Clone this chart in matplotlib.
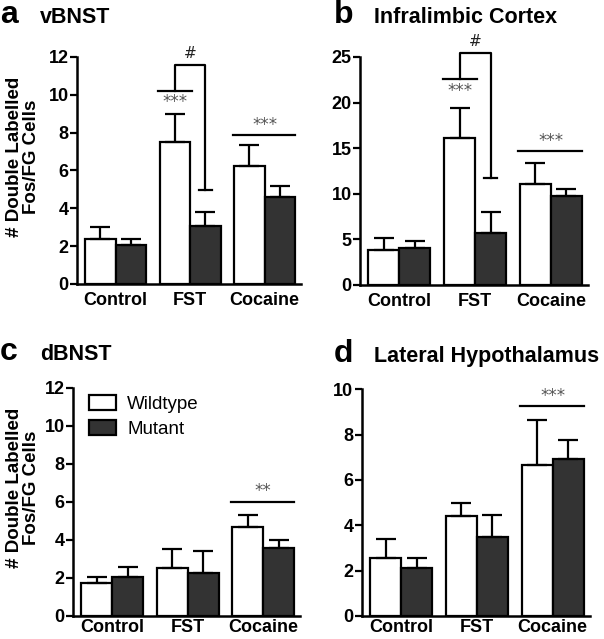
import numpy as np
import matplotlib
matplotlib.use("Agg")
import matplotlib.pyplot as plt
from matplotlib.patches import Patch

plt.rcParams['font.family'] = ['Liberation Sans', 'DejaVu Sans']

groups = ["Control", "FST", "Cocaine"]

# means and upper error (mean + sem)
vbnst_wt = [2.40, 7.51, 6.22]
vbnst_wt_top = [3.02, 8.96, 7.33]
vbnst_mut = [2.08, 3.08, 4.58]
vbnst_mut_top = [2.38, 3.81, 5.16]

il_wt = [3.83, 16.13, 11.06]
il_wt_top = [5.18, 19.45, 13.43]
il_mut = [4.05, 5.66, 9.78]
il_mut_top = [4.78, 7.96, 10.55]

dbnst_wt = [1.72, 2.50, 4.66]
dbnst_wt_top = [2.04, 3.51, 5.31]
dbnst_mut = [2.07, 2.25, 3.57]
dbnst_mut_top = [2.57, 3.44, 3.99]

lh_wt = [2.57, 4.42, 6.65]
lh_wt_top = [3.39, 4.98, 8.63]
lh_mut = [2.13, 3.49, 6.93]
lh_mut_top = [2.57, 4.45, 7.77]

# significance annotations
vbnst_bracket = [10.22, 11.6, 4.95]   # WT bar line, top, mutant drop
il_bracket = [22.55, 25.47, 11.75]
vbnst_coc_line = 7.86
il_coc_line = 14.7
dbnst_coc_line = 6.01
lh_coc_line = 9.25

dark = '#333333'
w = 0.41
x = np.arange(len(groups))

fig = plt.figure(figsize=(6.04, 6.39), dpi=100)


def panel(rect, wt, wt_top, mut, mut_top, ymax, ystep, xpad, ylabel_x=None):
    ax = fig.add_axes(rect)
    wt_err = [np.zeros(3), np.array(wt_top) - np.array(wt)]
    mut_err = [np.zeros(3), np.array(mut_top) - np.array(mut)]
    ax.bar(x - w / 2, wt, w, color='white', edgecolor='black', linewidth=1.6,
           yerr=wt_err, error_kw=dict(ecolor='black', elinewidth=1.6, capsize=7, capthick=1.6), zorder=3)
    ax.bar(x + w / 2, mut, w, color=dark, edgecolor='black', linewidth=1.6,
           yerr=mut_err, error_kw=dict(ecolor='black', elinewidth=1.6, capsize=7, capthick=1.6), zorder=3)
    ax.set_xlim(-0.52, 2.49)
    ax.set_ylim(0, ymax)
    ax.set_yticks(np.arange(0, ymax + 0.01, ystep))
    ax.set_xticks(x)
    ax.set_xticklabels(groups, fontsize=13, fontweight='bold')
    for lab in ax.get_yticklabels():
        lab.set_fontweight('bold')
        lab.set_fontsize(13)
    ax.tick_params(axis='x', length=0, pad=xpad)
    ax.tick_params(axis='y', length=5, width=1.6, pad=1, direction='out')
    for s in ['top', 'right']:
        ax.spines[s].set_visible(False)
    for s in ['left', 'bottom']:
        ax.spines[s].set_linewidth(1.8)
    if ylabel_x is not None:
        ax.set_ylabel("# Double Labelled\nFos/FG Cells", fontsize=13.5, fontweight='bold',
                      linespacing=1.0)
        ax.yaxis.set_label_coords(ylabel_x, 0.56)
    return ax


def coc_line(ax, y, ymax, stars):
    ax.plot([2 - w - 0.02, 2 + w], [y, y], color='black', lw=1.6, clip_on=False)
    ax.text(2, y + ymax * 0.045, stars, ha='center', va='center', fontsize=12,
            color='#555555', family='DejaVu Sans')


def bracket(ax, vals, ymax):
    low, top, drop = vals
    xw = 1 - w / 2
    xm = 1 + w / 2
    ax.plot([xw - w / 2 - 0.02, xw + w / 2 + 0.02], [low, low], color='black', lw=1.6, clip_on=False)
    ax.plot([xw, xw, xm, xm], [low, top, top, drop], color='black', lw=1.6, clip_on=False)
    ax.plot([xm - 0.09, xm + 0.09], [drop, drop], color='black', lw=1.6, clip_on=False)
    ax.text(1, top + ymax * 0.05, "#", ha='center', va='center', fontsize=11, color='#222222',
            family='DejaVu Sans')
    ax.text(xw, low - ymax * 0.05, "***", ha='center', va='center', fontsize=12,
            color='#555555', family='DejaVu Sans')


ax_a = panel([0.1275, 0.5556, 0.371, 0.3552], vbnst_wt, vbnst_wt_top, vbnst_mut, vbnst_mut_top,
             12, 2, 6, -0.165)
bracket(ax_a, vbnst_bracket, 12)
coc_line(ax_a, vbnst_coc_line, 12, "***")

ax_b = panel([0.596, 0.554, 0.3775, 0.3568], il_wt, il_wt_top, il_mut, il_mut_top, 25, 5, 6)
bracket(ax_b, il_bracket, 25)
coc_line(ax_b, il_coc_line, 25, "***")

ax_c = panel([0.121, 0.036, 0.376, 0.357], dbnst_wt, dbnst_wt_top, dbnst_mut, dbnst_mut_top,
             12, 2, 2.5, -0.145)
coc_line(ax_c, dbnst_coc_line, 12, "**")
ax_c.legend(handles=[Patch(facecolor='white', edgecolor='black', linewidth=1.6),
                     Patch(facecolor=dark, edgecolor='black', linewidth=1.6)],
            labels=["Wildtype", "Mutant"], loc='upper left', bbox_to_anchor=(0.07, 0.97),
            frameon=False, fontsize=13.5, handlelength=1.45, handleheight=0.85,
            handletextpad=0.6, labelspacing=0.4, borderpad=0, borderaxespad=0)

ax_d = panel([0.599, 0.036, 0.3775, 0.355], lh_wt, lh_wt_top, lh_mut, lh_mut_top, 10, 2, 2.5)
coc_line(ax_d, lh_coc_line, 10, "***")

# panel headings
fig.text(0.0, 0.964, "a", fontsize=23, fontweight='bold', va='baseline')
fig.text(0.066, 0.964, "vBNST", fontsize=15.5, fontweight='bold', va='baseline')
fig.text(0.553, 0.964, "b", fontsize=23, fontweight='bold', va='baseline')
fig.text(0.619, 0.964, "Infralimbic Cortex", fontsize=15.5, fontweight='bold', va='baseline')
fig.text(0.0, 0.4366, "c", fontsize=23, fontweight='bold', va='baseline')
fig.text(0.066, 0.4366, "dBNST", fontsize=15.5, fontweight='bold', va='baseline')
fig.text(0.553, 0.4335, "d", fontsize=23, fontweight='bold', va='baseline')
fig.text(0.619, 0.4335, "Lateral Hypothalamus", fontsize=15.5, fontweight='bold', va='baseline')

fig.savefig("out.png", dpi=100)
